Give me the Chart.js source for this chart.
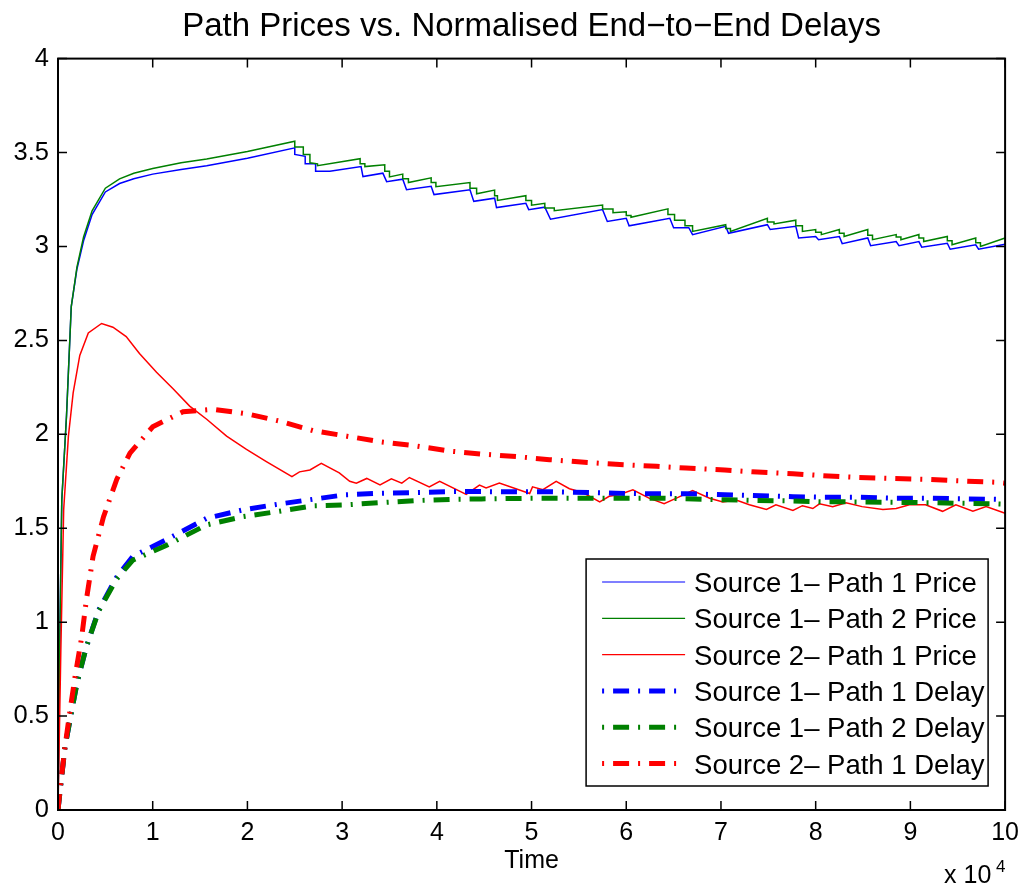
<!DOCTYPE html>
<html>
<head>
<meta charset="utf-8">
<script src="https://cdn.jsdelivr.net/npm/chart.js@4.4.1/dist/chart.umd.min.js"></script>
<style>
  html, body { margin: 0; padding: 0; background: #fff; }
</style>
</head>
<body>
<canvas id="chart" width="1027" height="893"></canvas>
<script>
// values (time in units of 10^4)
const xTickLabels = ["0", "1", "2", "3", "4", "5", "6", "7", "8", "9", "10"];
const yTickLabels = ["0", "0.5", "1", "1.5", "2", "2.5", "3", "3.5", "4"];

const seriesNames = [
  "Source 1\u2013 Path 1 Price",
  "Source 1\u2013 Path 2 Price",
  "Source 2\u2013 Path 1 Price",
  "Source 1\u2013 Path 1 Delay",
  "Source 1\u2013 Path 2 Delay",
  "Source 2\u2013 Path 1 Delay"
];

const price11X = [0, 0.02, 0.04, 0.09, 0.14, 0.2, 0.27, 0.36, 0.5, 0.65, 0.8, 1, 1.3, 1.57, 2, 2.5, 2.5, 2.61, 2.61, 2.72, 2.72, 2.87, 3.2, 3.22, 3.43, 3.47, 3.64, 3.68, 3.94, 3.97, 4.35, 4.39, 4.61, 4.63, 4.94, 4.97, 5.14, 5.2, 5.75, 5.8, 6, 6.03, 6.46, 6.5, 6.66, 6.7, 7.05, 7.08, 7.49, 7.52, 7.79, 7.82, 8, 8.03, 8.25, 8.28, 8.55, 8.58, 8.85, 8.88, 9.09, 9.12, 9.39, 9.42, 9.69, 9.72, 10];
const price11Y = [0, 0.95, 1.65, 2.1, 2.68, 2.88, 3.03, 3.17, 3.29, 3.335, 3.36, 3.385, 3.41, 3.43, 3.47, 3.525, 3.49, 3.48, 3.44, 3.44, 3.4, 3.4, 3.425, 3.372, 3.39, 3.345, 3.358, 3.302, 3.32, 3.276, 3.302, 3.24, 3.257, 3.207, 3.23, 3.196, 3.209, 3.145, 3.196, 3.133, 3.15, 3.11, 3.15, 3.1, 3.1, 3.063, 3.107, 3.07, 3.116, 3.09, 3.107, 3.045, 3.053, 3.036, 3.053, 3.015, 3.045, 3.004, 3.026, 3.004, 3.026, 2.996, 3.017, 2.985, 3.009, 2.985, 3.012];

const price12X = [0, 0.02, 0.04, 0.09, 0.14, 0.2, 0.27, 0.36, 0.5, 0.65, 0.8, 1, 1.3, 1.57, 2, 2.5, 2.5, 2.59, 2.59, 2.66, 2.66, 2.74, 2.74, 3.19, 3.19, 3.24, 3.24, 3.45, 3.45, 3.5, 3.5, 3.64, 3.64, 3.7, 3.7, 3.94, 3.94, 3.99, 3.99, 4.35, 4.35, 4.42, 4.42, 4.61, 4.61, 4.64, 4.64, 4.94, 4.94, 5, 5, 5.14, 5.14, 5.24, 5.24, 5.75, 5.75, 5.86, 5.86, 6, 6, 6.05, 6.05, 6.44, 6.44, 6.51, 6.51, 6.62, 6.62, 6.7, 6.7, 7.05, 7.05, 7.1, 7.1, 7.49, 7.49, 7.56, 7.56, 7.79, 7.79, 7.86, 7.86, 8, 8, 8.06, 8.06, 8.25, 8.25, 8.3, 8.3, 8.55, 8.55, 8.6, 8.6, 8.85, 8.85, 8.9, 8.9, 9.09, 9.09, 9.14, 9.14, 9.39, 9.39, 9.44, 9.44, 9.69, 9.69, 9.74, 9.74, 10];
const price12Y = [0, 0.95, 1.65, 2.1, 2.68, 2.89, 3.05, 3.19, 3.31, 3.36, 3.39, 3.415, 3.445, 3.465, 3.505, 3.56, 3.53, 3.53, 3.49, 3.49, 3.445, 3.44, 3.43, 3.467, 3.44, 3.44, 3.425, 3.435, 3.4, 3.4, 3.37, 3.385, 3.36, 3.36, 3.34, 3.365, 3.34, 3.34, 3.318, 3.34, 3.31, 3.31, 3.28, 3.3, 3.27, 3.27, 3.245, 3.27, 3.245, 3.245, 3.22, 3.23, 3.205, 3.205, 3.19, 3.22, 3.2, 3.2, 3.18, 3.185, 3.165, 3.165, 3.155, 3.2, 3.17, 3.17, 3.14, 3.14, 3.11, 3.11, 3.08, 3.116, 3.095, 3.095, 3.08, 3.15, 3.13, 3.13, 3.12, 3.14, 3.11, 3.11, 3.08, 3.09, 3.075, 3.075, 3.063, 3.09, 3.07, 3.07, 3.053, 3.09, 3.06, 3.06, 3.036, 3.063, 3.05, 3.05, 3.036, 3.063, 3.045, 3.045, 3.026, 3.053, 3.03, 3.03, 3.009, 3.045, 3.02, 3.02, 3, 3.045];

const price21X = [0, 0.03, 0.06, 0.11, 0.16, 0.23, 0.32, 0.46, 0.58, 0.72, 0.86, 1.04, 1.22, 1.39, 1.57, 1.78, 1.99, 2.2, 2.47, 2.55, 2.66, 2.78, 2.97, 3.08, 3.15, 3.26, 3.4, 3.52, 3.63, 3.71, 3.92, 4.03, 4.31, 4.45, 4.52, 4.66, 4.98, 5.01, 5.12, 5.26, 5.4, 5.54, 5.72, 5.82, 5.93, 6.07, 6.24, 6.4, 6.53, 6.7, 6.88, 7.02, 7.16, 7.3, 7.48, 7.58, 7.76, 7.86, 7.97, 8.04, 8.18, 8.32, 8.49, 8.71, 8.85, 8.99, 9.16, 9.34, 9.48, 9.66, 9.8, 10];
const price21Y = [0, 0.85, 1.6, 1.99, 2.22, 2.42, 2.54, 2.59, 2.57, 2.52, 2.43, 2.33, 2.24, 2.15, 2.08, 1.99, 1.92, 1.855, 1.775, 1.8, 1.81, 1.845, 1.795, 1.75, 1.74, 1.765, 1.73, 1.763, 1.74, 1.77, 1.72, 1.75, 1.68, 1.73, 1.715, 1.74, 1.685, 1.72, 1.705, 1.75, 1.71, 1.69, 1.64, 1.67, 1.68, 1.705, 1.66, 1.63, 1.66, 1.7, 1.66, 1.64, 1.65, 1.625, 1.6, 1.625, 1.595, 1.62, 1.605, 1.63, 1.615, 1.635, 1.615, 1.6, 1.605, 1.625, 1.625, 1.59, 1.625, 1.59, 1.615, 1.58];

const delay11X = [0, 0.074, 0.14, 0.2, 0.3, 0.43, 0.62, 0.79, 1.13, 1.57, 1.955, 2.31, 2.69, 3.03, 3.4, 3.78, 4.17, 4.47, 4.91, 5.19, 5.61, 5.89, 6.32, 6.63, 7.04, 7.33, 7.76, 8.07, 8.46, 8.78, 9.2, 9.48, 9.9, 10];
const delay11Y = [0, 0.337, 0.515, 0.675, 0.87, 1.065, 1.24, 1.35, 1.435, 1.553, 1.598, 1.627, 1.654, 1.678, 1.686, 1.69, 1.695, 1.695, 1.694, 1.694, 1.69, 1.686, 1.683, 1.683, 1.678, 1.674, 1.668, 1.665, 1.665, 1.66, 1.66, 1.657, 1.654, 1.652];

const delay12X = [0, 0.074, 0.14, 0.2, 0.3, 0.43, 0.62, 0.79, 1.13, 1.57, 1.955, 2.31, 2.69, 3.03, 3.4, 3.78, 4.17, 4.47, 4.91, 5.19, 5.61, 5.89, 6.32, 6.63, 7.04, 7.33, 7.76, 8.07, 8.46, 8.78, 9.2, 9.48, 9.9, 10];
const delay12Y = [0, 0.337, 0.515, 0.675, 0.87, 1.06, 1.23, 1.33, 1.405, 1.518, 1.562, 1.588, 1.619, 1.624, 1.636, 1.647, 1.654, 1.656, 1.659, 1.66, 1.66, 1.66, 1.66, 1.657, 1.651, 1.648, 1.645, 1.641, 1.64, 1.638, 1.636, 1.633, 1.63, 1.628];

const delay21X = [0, 0.02, 0.074, 0.127, 0.18, 0.25, 0.3, 0.37, 0.48, 0.62, 0.76, 1, 1.32, 1.64, 1.99, 2.34, 2.69, 3.05, 3.41, 3.75, 4.15, 4.47, 4.87, 5.19, 5.59, 5.89, 6.32, 6.63, 7.04, 7.33, 7.76, 8.07, 8.46, 8.78, 9.2, 9.48, 9.9, 10];
const delay21Y = [0, 0.106, 0.337, 0.53, 0.71, 0.92, 1.12, 1.35, 1.56, 1.76, 1.9, 2.04, 2.12, 2.133, 2.11, 2.07, 2.02, 1.99, 1.96, 1.94, 1.91, 1.895, 1.88, 1.865, 1.85, 1.84, 1.83, 1.82, 1.81, 1.8, 1.79, 1.78, 1.77, 1.765, 1.76, 1.753, 1.745, 1.74];

const FONT = "'Liberation Sans', Arial, Helvetica, sans-serif";
const BLUE = "#0000ff", GREEN = "#008000", RED = "#ff0000";
const DASHDOT = [16, 9, 2, 9];

function pts(xs, ys) {
  return xs.map((x, i) => ({ x: x, y: ys[i] }));
}

function priceSet(i, xs, ys, color) {
  return {
    label: seriesNames[i], data: pts(xs, ys), borderColor: color,
    borderWidth: 1.5, pointRadius: 0, tension: 0, order: 6 - i
  };
}
function delaySet(i, xs, ys, color) {
  return {
    label: seriesNames[i], data: pts(xs, ys), borderColor: color,
    borderWidth: 5, borderDash: DASHDOT, pointRadius: 0, tension: 0, order: 6 - i
  };
}

// MATLAB-style box with inward ticks on all four sides
const axesBox = {
  id: "axesBox",
  afterDatasetsDraw(chart) {
    const { ctx, chartArea: a, scales: { x, y } } = chart;
    ctx.save();
    ctx.strokeStyle = "#000";
    ctx.lineWidth = 1.5;
    ctx.beginPath();
    x.ticks.forEach(t => {
      const px = x.getPixelForValue(t.value);
      ctx.moveTo(px, a.bottom); ctx.lineTo(px, a.bottom - 9);
      ctx.moveTo(px, a.top); ctx.lineTo(px, a.top + 9);
    });
    y.ticks.forEach(t => {
      const py = y.getPixelForValue(t.value);
      ctx.moveTo(a.left, py); ctx.lineTo(a.left + 9, py);
      ctx.moveTo(a.right, py); ctx.lineTo(a.right - 9, py);
    });
    ctx.stroke();
    ctx.lineWidth = 2;
    ctx.strokeRect(a.left, a.top, a.right - a.left, a.bottom - a.top);
    ctx.restore();
  }
};

// boxed legend in the lower right of the axes
const boxLegend = {
  id: "boxLegend",
  afterDraw(chart) {
    const { ctx, chartArea: a } = chart;
    const right = a.right - 17, bottom = a.bottom - 24;
    const w = 402, h = 227, left = right - w, top = bottom - h;
    ctx.save();
    ctx.fillStyle = "#fff";
    ctx.fillRect(left, top, w, h);
    ctx.strokeStyle = "#000";
    ctx.lineWidth = 1.5;
    ctx.strokeRect(left, top, w, h);
    chart.data.datasets.forEach((ds, i) => {
      const cy = top + 23 + i * 36.3;
      ctx.strokeStyle = ds.borderColor;
      ctx.lineWidth = ds.borderDash ? 5 : 1.2;
      ctx.setLineDash(ds.borderDash || []);
      ctx.lineDashOffset = ds.borderDash ? 25 : 0;
      ctx.beginPath();
      ctx.moveTo(left + 16, cy);
      ctx.lineTo(left + 99, cy);
      ctx.stroke();
      ctx.setLineDash([]);
      ctx.fillStyle = "#000";
      ctx.font = "27.5px " + FONT;
      ctx.textAlign = "left";
      ctx.textBaseline = "alphabetic";
      ctx.fillText(ds.label, left + 108, cy + 10);
    });
    // exponent under the x axis
    ctx.font = "25px " + FONT;
    ctx.fillText("x 10", a.right - 61, a.bottom + 73);
    ctx.font = "17px " + FONT;
    ctx.fillText("4", a.right - 9, a.bottom + 62);
    ctx.restore();
  }
};

Chart.defaults.font.family = FONT;
Chart.defaults.color = "#000";

new Chart(document.getElementById("chart"), {
  type: "line",
  data: {
    datasets: [
      priceSet(0, price11X, price11Y, BLUE),
      priceSet(1, price12X, price12Y, GREEN),
      priceSet(2, price21X, price21Y, RED),
      delaySet(3, delay11X, delay11Y, BLUE),
      delaySet(4, delay12X, delay12Y, GREEN),
      delaySet(5, delay21X, delay21Y, RED)
    ]
  },
  options: {
    responsive: false,
    animation: false,
    layout: { padding: { left: 0, right: 18, top: 0, bottom: 0 } },
    scales: {
      x: {
        type: "linear", min: 0, max: 10,
        grid: { display: false, drawTicks: false },
        border: { display: false },
        ticks: {
          stepSize: 1, padding: 8, maxRotation: 0,
          font: { size: 25 },
          callback: (v, i) => xTickLabels[i]
        },
        title: { display: true, text: "Time", font: { size: 25 }, padding: { top: 0, bottom: 17 } },
        afterFit(s) { s.height = 83; }
      },
      y: {
        type: "linear", min: 0, max: 4,
        grid: { display: false, drawTicks: false },
        border: { display: false },
        ticks: {
          stepSize: 0.5, padding: 9,
          font: { size: 25.5 },
          callback: (v, i) => yTickLabels[i]
        },
        afterFit(s) { s.width = 58; }
      }
    },
    plugins: {
      legend: { display: false },
      tooltip: { enabled: false },
      title: {
        display: true, fullSize: false,
        text: "Path Prices vs. Normalised End\u2212to\u2212End Delays",
        font: { size: 33, weight: "normal" },
        padding: { top: 7, bottom: 12 }
      }
    }
  },
  plugins: [axesBox, boxLegend]
});
</script>
</body>
</html>
